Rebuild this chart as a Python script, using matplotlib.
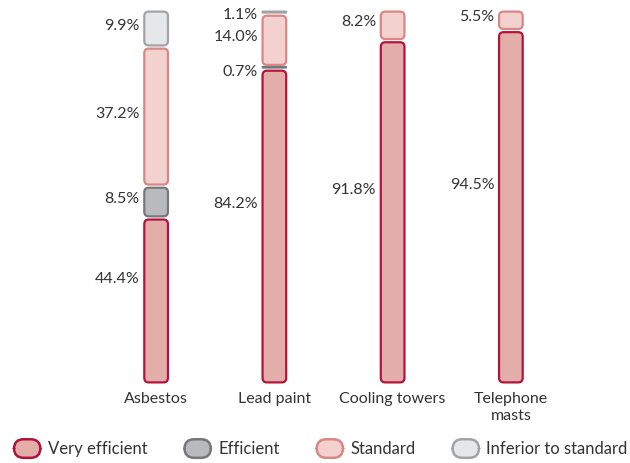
import matplotlib
matplotlib.use("Agg")
import matplotlib.pyplot as plt
from matplotlib.patches import FancyBboxPatch
from matplotlib.legend_handler import HandlerPatch

categories = ["Asbestos", "Lead paint", "Cooling towers", "Telephone\nmasts"]
series_names = ["Very efficient", "Efficient", "Standard", "Inferior to standard"]
very_efficient = [44.4, 84.2, 91.8, 94.5]
efficient = [8.5, 0.7, 0.0, 0.0]
standard = [37.2, 14.0, 8.2, 5.5]
inferior = [9.9, 1.1, 0.0, 0.0]

faces = ["#e3aeaa", "#b9babe", "#f2d1ce", "#e6e7e9"]
edges = ["#b3133b", "#76777b", "#d98784", "#a2a3a7"]
text_color = "#333333"

plt.rcParams["font.family"] = ["Lato", "DejaVu Sans"]
fs = 11.5

fig = plt.figure(figsize=(6.3, 4.63), dpi=100)
ax = fig.add_axes([97 / 630, 79 / 463, 473 / 630, 374 / 463])
ax.set_xlim(-0.5, 3.5)
ax.set_ylim(0, 100)
ax.axis("off")

px_x = 473 / 4.0      # pixels per x unit
px_y = 374 / 100.0    # pixels per y unit
bar_w = 0.2
gap = 1.6 / px_y      # half gap between stacked segments

data = [very_efficient, efficient, standard, inferior]
for i in range(len(categories)):
    bottom = 0.0
    for s, vals in enumerate(data):
        v = vals[i]
        if v <= 0:
            continue
        y0 = bottom + gap
        h = max(v - 2 * gap, 0.15)
        r_px = min(4.5, h * px_y / 2)
        box = FancyBboxPatch((i - bar_w / 2, y0), bar_w, h,
                             boxstyle=f"round,pad=0,rounding_size={r_px / px_x}",
                             mutation_aspect=px_x / px_y,
                             facecolor=faces[s], edgecolor=edges[s], lw=1.6)
        ax.add_patch(box)
        # label position: bottom segment labels sit a bit higher in the original
        if s == 0:
            yc = v / 2 + 6
        elif v < 2:
            yc = bottom + v / 2 - (1.0 if s == 1 else 0.8)
        else:
            yc = bottom + v / 2 + 0.8
        ax.text(i - bar_w / 2 - 0.04, yc, f"{v:.1f}%", ha="right", va="center",
                fontsize=fs, color=text_color)
        bottom += v
    ax.text(i, -2.2, categories[i], ha="center", va="top", fontsize=fs,
            color=text_color, linespacing=1.25)


class RoundHandler(HandlerPatch):
    def create_artists(self, legend, orig_handle, xdescent, ydescent,
                       width, height, fontsize, trans):
        p = FancyBboxPatch((-xdescent + 1, -ydescent - 1.5), width - 2, height + 3,
                           boxstyle="round,pad=0,rounding_size=7",
                           facecolor=orig_handle.get_facecolor(),
                           edgecolor=orig_handle.get_edgecolor(), lw=1.8,
                           transform=trans)
        return [p]


handles = [FancyBboxPatch((0, 0), 1, 1, facecolor=f, edgecolor=e)
           for f, e in zip(faces, edges)]
leg = fig.legend(handles, series_names, loc="lower center", ncol=4,
                 bbox_to_anchor=(0.508, -0.02), frameon=False, fontsize=12,
                 handlelength=1.75, handleheight=0.95, handletextpad=0.35,
                 columnspacing=2.15, labelcolor=text_color,
                 handler_map={FancyBboxPatch: RoundHandler()})

fig.savefig("out.png", dpi=100)
